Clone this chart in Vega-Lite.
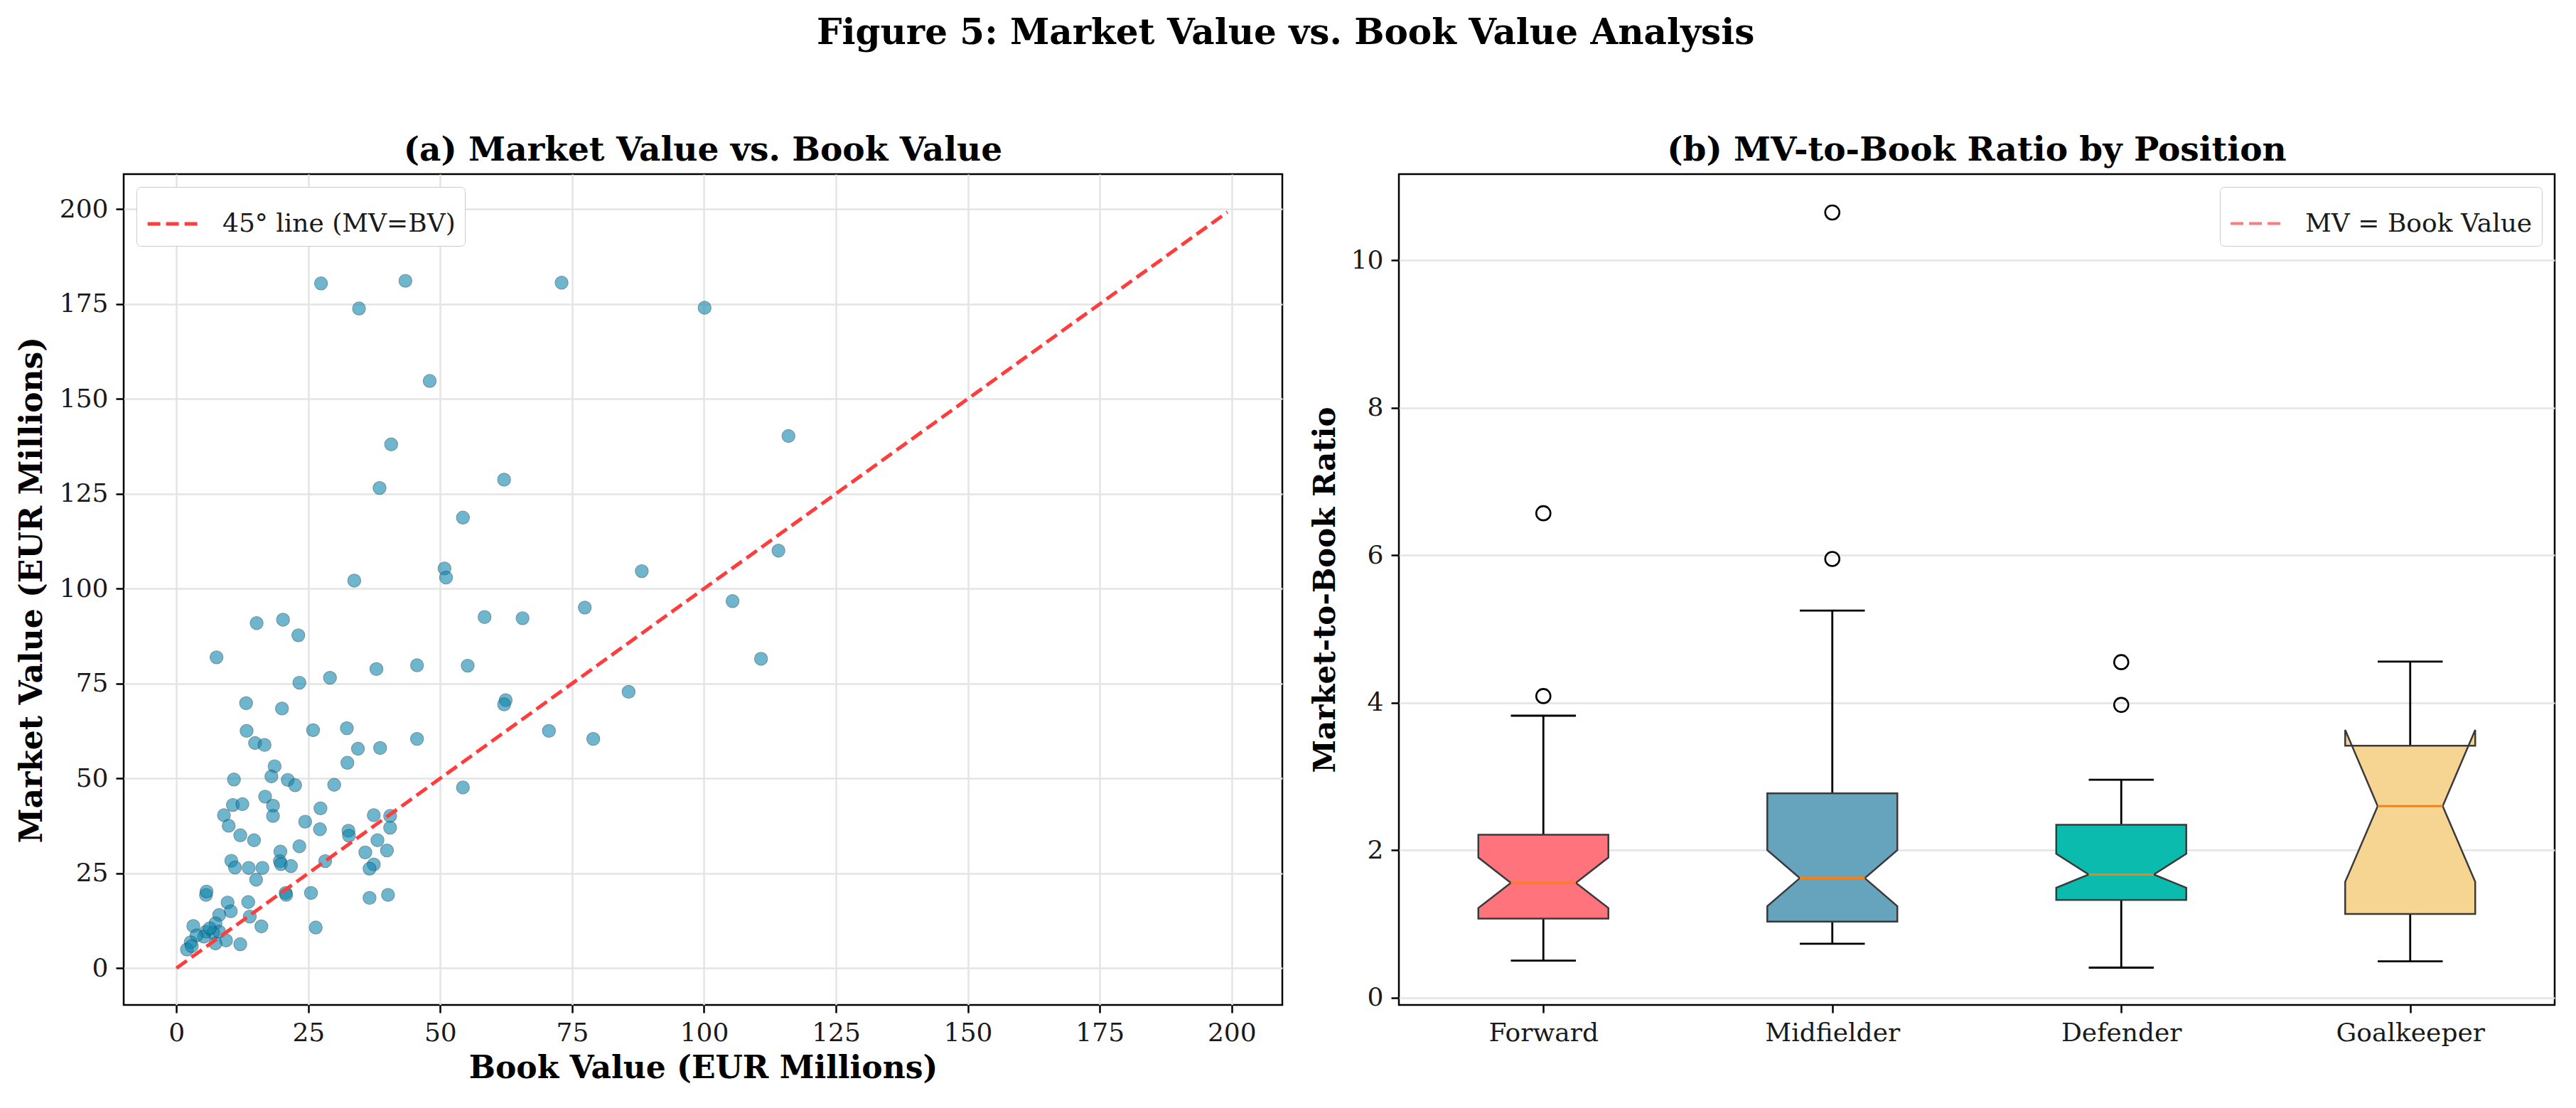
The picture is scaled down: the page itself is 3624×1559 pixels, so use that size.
{
  "$schema": "https://vega.github.io/schema/vega-lite/v6.json",
  "background": "white",
  "padding": {"left": 22, "top": 21, "right": 20, "bottom": 20},
  "title": {
    "text": "Figure 5: Market Value vs. Book Value Analysis",
    "font": "DejaVu Serif",
    "fontSize": 50,
    "fontWeight": "bold",
    "color": "black",
    "anchor": "middle",
    "offset": 115
  },
  "config": {
    "font": "DejaVu Serif",
    "view": {"stroke": "black", "strokeWidth": 2.5},
    "axis": {
      "labelFont": "DejaVu Serif",
      "labelFontSize": 36,
      "labelColor": "#1a1a1a",
      "labelLimit": 600,
      "titleFont": "DejaVu Serif",
      "titleFontSize": 44,
      "titleFontWeight": "bold",
      "titleColor": "black",
      "domain": false,
      "tickColor": "black",
      "tickWidth": 2.5,
      "tickSize": 11,
      "labelPadding": 11,
      "titlePadding": 14,
      "gridColor": "#e4e4e4",
      "gridWidth": 2.5
    },
    "legend": {
      "labelFont": "DejaVu Serif",
      "labelFontSize": 36,
      "labelColor": "#1a1a1a",
      "labelLimit": 2000,
      "fillColor": "white",
      "strokeColor": "#cccccc",
      "cornerRadius": 6,
      "padding": 13,
      "offset": 18
    },
    "title": {"font": "DejaVu Serif", "fontSize": 47, "fontWeight": "bold", "color": "black", "offset": 9}
  },
  "datasets": {
    "players": [
      {"book_value": 27.4, "market_value": 180.4}, {"book_value": 43.4, "market_value": 181.1},
      {"book_value": 34.6, "market_value": 173.8}, {"book_value": 73.0, "market_value": 180.6},
      {"book_value": 100.1, "market_value": 174.0}, {"book_value": 48.0, "market_value": 154.7},
      {"book_value": 40.7, "market_value": 138.0}, {"book_value": 38.5, "market_value": 126.5},
      {"book_value": 62.1, "market_value": 128.7}, {"book_value": 54.3, "market_value": 118.7},
      {"book_value": 50.8, "market_value": 105.3}, {"book_value": 51.1, "market_value": 102.9},
      {"book_value": 33.7, "market_value": 102.1}, {"book_value": 88.2, "market_value": 104.6},
      {"book_value": 105.4, "market_value": 96.7}, {"book_value": 15.2, "market_value": 90.9},
      {"book_value": 20.2, "market_value": 91.8}, {"book_value": 23.1, "market_value": 87.7},
      {"book_value": 58.4, "market_value": 92.5}, {"book_value": 65.6, "market_value": 92.2},
      {"book_value": 77.4, "market_value": 95.0}, {"book_value": 7.6, "market_value": 81.9},
      {"book_value": 45.6, "market_value": 79.8}, {"book_value": 55.2, "market_value": 79.7},
      {"book_value": 37.9, "market_value": 78.8}, {"book_value": 29.1, "market_value": 76.5},
      {"book_value": 23.3, "market_value": 75.2}, {"book_value": 85.7, "market_value": 72.8},
      {"book_value": 62.4, "market_value": 70.6}, {"book_value": 62.1, "market_value": 69.5},
      {"book_value": 13.2, "market_value": 69.8}, {"book_value": 20.0, "market_value": 68.4},
      {"book_value": 70.6, "market_value": 62.5}, {"book_value": 13.3, "market_value": 62.5},
      {"book_value": 25.9, "market_value": 62.7}, {"book_value": 32.3, "market_value": 63.2},
      {"book_value": 45.6, "market_value": 60.4}, {"book_value": 79.0, "market_value": 60.4},
      {"book_value": 14.9, "market_value": 59.3}, {"book_value": 16.7, "market_value": 58.8},
      {"book_value": 34.4, "market_value": 57.8}, {"book_value": 38.6, "market_value": 58.0},
      {"book_value": 32.4, "market_value": 54.1}, {"book_value": 18.6, "market_value": 53.2},
      {"book_value": 18.0, "market_value": 50.5}, {"book_value": 10.9, "market_value": 49.7},
      {"book_value": 21.1, "market_value": 49.6}, {"book_value": 22.5, "market_value": 48.2},
      {"book_value": 29.9, "market_value": 48.3}, {"book_value": 54.3, "market_value": 47.6},
      {"book_value": 16.8, "market_value": 45.2}, {"book_value": 10.7, "market_value": 43.0},
      {"book_value": 12.5, "market_value": 43.2}, {"book_value": 18.3, "market_value": 42.8},
      {"book_value": 18.3, "market_value": 40.1}, {"book_value": 9.0, "market_value": 40.3},
      {"book_value": 27.3, "market_value": 42.1}, {"book_value": 37.4, "market_value": 40.3},
      {"book_value": 40.5, "market_value": 40.1}, {"book_value": 24.4, "market_value": 38.6},
      {"book_value": 9.9, "market_value": 37.5}, {"book_value": 27.2, "market_value": 36.6},
      {"book_value": 32.6, "market_value": 36.2}, {"book_value": 40.5, "market_value": 37.0},
      {"book_value": 32.7, "market_value": 34.9}, {"book_value": 12.1, "market_value": 35.0},
      {"book_value": 14.7, "market_value": 33.7}, {"book_value": 38.1, "market_value": 33.7},
      {"book_value": 23.3, "market_value": 32.1}, {"book_value": 35.8, "market_value": 30.5},
      {"book_value": 39.9, "market_value": 31.0}, {"book_value": 19.7, "market_value": 30.7},
      {"book_value": 10.4, "market_value": 28.3}, {"book_value": 19.6, "market_value": 28.2},
      {"book_value": 28.2, "market_value": 28.2}, {"book_value": 11.1, "market_value": 26.5},
      {"book_value": 13.7, "market_value": 26.4}, {"book_value": 16.3, "market_value": 26.4},
      {"book_value": 19.8, "market_value": 27.4}, {"book_value": 21.7, "market_value": 26.9},
      {"book_value": 37.4, "market_value": 27.3}, {"book_value": 36.6, "market_value": 26.2},
      {"book_value": 15.1, "market_value": 23.3}, {"book_value": 5.6, "market_value": 19.3},
      {"book_value": 5.7, "market_value": 20.2}, {"book_value": 20.7, "market_value": 19.8},
      {"book_value": 20.8, "market_value": 19.3}, {"book_value": 25.5, "market_value": 19.8},
      {"book_value": 36.6, "market_value": 18.5}, {"book_value": 40.1, "market_value": 19.3},
      {"book_value": 9.7, "market_value": 17.3}, {"book_value": 13.6, "market_value": 17.4},
      {"book_value": 10.3, "market_value": 15.0}, {"book_value": 13.9, "market_value": 13.6},
      {"book_value": 26.4, "market_value": 10.7}, {"book_value": 16.1, "market_value": 11.0},
      {"book_value": 12.1, "market_value": 6.3}, {"book_value": 8.1, "market_value": 14.0},
      {"book_value": 7.4, "market_value": 11.8}, {"book_value": 3.2, "market_value": 11.1},
      {"book_value": 5.6, "market_value": 9.6}, {"book_value": 7.0, "market_value": 9.3},
      {"book_value": 8.1, "market_value": 9.6}, {"book_value": 9.4, "market_value": 7.3},
      {"book_value": 7.4, "market_value": 6.5}, {"book_value": 5.2, "market_value": 8.3},
      {"book_value": 3.8, "market_value": 8.6}, {"book_value": 2.7, "market_value": 6.8},
      {"book_value": 2.0, "market_value": 4.9}, {"book_value": 2.9, "market_value": 5.8},
      {"book_value": 6.3, "market_value": 10.5}, {"book_value": 116.0, "market_value": 140.2},
      {"book_value": 114.1, "market_value": 110.0}, {"book_value": 110.8, "market_value": 81.5}
    ],
    "diagonal": [
      {"book_value": 0, "market_value": 0},
      {"book_value": 199.2, "market_value": 199.2}
    ],
    "boxes": [
      {"position": "Forward", "lower_whisker": 0.502, "q1": 1.071, "notch_low": 1.215, "median": 1.556, "notch_high": 1.9, "q3": 2.208, "upper_whisker": 3.824},
      {"position": "Midfielder", "lower_whisker": 0.73, "q1": 1.03, "notch_low": 1.24, "median": 1.62, "notch_high": 2.0, "q3": 2.77, "upper_whisker": 5.25},
      {"position": "Defender", "lower_whisker": 0.406, "q1": 1.325, "notch_low": 1.49, "median": 1.67, "notch_high": 1.95, "q3": 2.345, "upper_whisker": 2.955},
      {"position": "Goalkeeper", "lower_whisker": 0.492, "q1": 1.135, "notch_low": 1.569, "median": 2.597, "notch_high": 3.631, "q3": 3.416, "upper_whisker": 4.557}
    ],
    "outliers": [
      {"position": "Forward", "ratio": 4.09},
      {"position": "Forward", "ratio": 6.57},
      {"position": "Midfielder", "ratio": 5.95},
      {"position": "Midfielder", "ratio": 10.65},
      {"position": "Defender", "ratio": 3.97},
      {"position": "Defender", "ratio": 4.55}
    ]
  },
  "spacing": 35,
  "hconcat": [
    {
      "title": "(a) Market Value vs. Book Value",
      "width": 1630,
      "height": 1169,
      "layer": [
        {
          "data": {"name": "players"},
          "mark": {"type": "circle", "size": 330, "color": "#0e87ad", "opacity": 0.6, "stroke": "#15506a", "strokeWidth": 1.2},
          "encoding": {
            "x": {"field": "book_value", "type": "quantitative",
                  "scale": {"domain": [-10, 209.6], "nice": false, "zero": false},
                  "axis": {"values": [0, 25, 50, 75, 100, 125, 150, 175, 200], "title": "Book Value (EUR Millions)", "grid": true, "titlePadding": 10}},
            "y": {"field": "market_value", "type": "quantitative",
                  "scale": {"domain": [-9.7, 209.2], "nice": false, "zero": false},
                  "axis": {"values": [0, 25, 50, 75, 100, 125, 150, 175, 200], "title": "Market Value (EUR Millions)", "grid": true, "titlePadding": 16}}
          }
        },
        {
          "data": {"name": "diagonal"},
          "mark": {"type": "line", "strokeWidth": 5, "strokeDash": [18, 8]},
          "encoding": {
            "x": {"field": "book_value", "type": "quantitative"},
            "y": {"field": "market_value", "type": "quantitative"},
            "stroke": {"datum": "45° line (MV=BV)",
                       "scale": {"range": ["#ff3d3d"]},
                       "legend": {"title": null, "orient": "top-left", "symbolType": "stroke", "symbolStrokeWidth": 5, "symbolDash": [18, 8], "symbolSize": 5300, "labelOffset": 30}}
          }
        }
      ]
    },
    {
      "title": "(b) MV-to-Book Ratio by Position",
      "width": 1626,
      "height": 1169,
      "layer": [
        {
          "data": {"name": "boxes"},
          "transform": [
            {"calculate": "indexof(['Forward','Midfielder','Defender','Goalkeeper'], datum.position) + 1", "as": "idx"}
          ],
          "mark": {"type": "rule", "color": "black", "strokeWidth": 2.8},
          "encoding": {
            "x": {"field": "idx", "type": "quantitative",
                  "scale": {"domain": [0.5, 4.5], "nice": false, "zero": false},
                  "axis": {"values": [1, 2, 3, 4], "labelExpr": "['Forward','Midfielder','Defender','Goalkeeper'][datum.value - 1]", "grid": false, "title": null}},
            "y": {"field": "lower_whisker", "type": "quantitative",
                  "scale": {"domain": [-0.1, 11.17], "nice": false, "zero": false},
                  "axis": {"values": [0, 2, 4, 6, 8, 10], "format": "d", "title": "Market-to-Book Ratio", "titleFontSize": 42, "grid": true}},
            "y2": {"field": "q1"}
          }
        },
        {
          "data": {"name": "boxes"},
          "transform": [
            {"calculate": "indexof(['Forward','Midfielder','Defender','Goalkeeper'], datum.position) + 1", "as": "idx"}
          ],
          "mark": {"type": "rule", "color": "black", "strokeWidth": 2.8},
          "encoding": {
            "x": {"field": "idx", "type": "quantitative", "axis": {"title": null}},
            "y": {"field": "q3", "type": "quantitative"},
            "y2": {"field": "upper_whisker"}
          }
        },
        {
          "data": {"name": "boxes"},
          "transform": [
            {"calculate": "indexof(['Forward','Midfielder','Defender','Goalkeeper'], datum.position) + 1", "as": "idx"},
            {"calculate": "datum.idx - 0.1125", "as": "cap_left"},
            {"calculate": "datum.idx + 0.1125", "as": "cap_right"},
            {"fold": ["lower_whisker", "upper_whisker"], "as": ["end", "cap_value"]}
          ],
          "mark": {"type": "rule", "color": "black", "strokeWidth": 2.8},
          "encoding": {
            "x": {"field": "cap_left", "type": "quantitative", "axis": {"title": null}},
            "x2": {"field": "cap_right"},
            "y": {"field": "cap_value", "type": "quantitative"}
          }
        },
        {
          "data": {"name": "boxes"},
          "transform": [
            {"calculate": "indexof(['Forward','Midfielder','Defender','Goalkeeper'], datum.position) + 1", "as": "idx"},
            {"fold": ["q1", "notch_low", "median", "notch_high", "q3"], "as": ["stat", "value"]},
            {"calculate": "indexof(['q1','notch_low','median','notch_high','q3'], datum.stat)", "as": "step"},
            {"calculate": "[-1, 1]", "as": "sides"},
            {"flatten": ["sides"], "as": ["side"]},
            {"calculate": "datum.side < 0 ? datum.step : 9 - datum.step", "as": "vertex"},
            {"calculate": "datum.idx + datum.side * (datum.stat === 'median' ? 0.1125 : 0.225)", "as": "edge_x"}
          ],
          "mark": {"type": "line", "interpolate": "linear-closed", "stroke": "#3a3a3a", "strokeWidth": 2.5, "fillOpacity": 1},
          "encoding": {
            "x": {"field": "edge_x", "type": "quantitative", "axis": {"title": null}},
            "y": {"field": "value", "type": "quantitative"},
            "order": {"field": "vertex", "type": "quantitative"},
            "detail": {"field": "position", "type": "nominal"},
            "fill": {"field": "position", "type": "nominal",
                     "scale": {"domain": ["Forward", "Midfielder", "Defender", "Goalkeeper"], "range": ["#ff737d", "#66a3bc", "#0bbbad", "#f6d593"]},
                     "legend": null}
          }
        },
        {
          "data": {"name": "boxes"},
          "transform": [
            {"calculate": "indexof(['Forward','Midfielder','Defender','Goalkeeper'], datum.position) + 1", "as": "idx"},
            {"calculate": "datum.idx - 0.1125", "as": "med_left"},
            {"calculate": "datum.idx + 0.1125", "as": "med_right"}
          ],
          "mark": {"type": "rule", "color": "#ff7f0e", "strokeWidth": 3},
          "encoding": {
            "x": {"field": "med_left", "type": "quantitative", "axis": {"title": null}},
            "x2": {"field": "med_right"},
            "y": {"field": "median", "type": "quantitative"}
          }
        },
        {
          "data": {"name": "outliers"},
          "transform": [
            {"calculate": "indexof(['Forward','Midfielder','Defender','Goalkeeper'], datum.position) + 1", "as": "idx"}
          ],
          "mark": {"type": "point", "shape": "circle", "filled": false, "color": "black", "size": 400, "strokeWidth": 2.6, "opacity": 1},
          "encoding": {
            "x": {"field": "idx", "type": "quantitative", "axis": {"title": null}},
            "y": {"field": "ratio", "type": "quantitative"}
          }
        },
        {
          "mark": {"type": "rule", "strokeWidth": 4, "strokeDash": [18, 8]},
          "encoding": {
            "y": {"datum": 1, "type": "quantitative"},
            "stroke": {"datum": "MV = Book Value",
                       "scale": {"range": ["#ff7a7a"]},
                       "legend": {"title": null, "orient": "top-right", "symbolType": "stroke", "symbolStrokeWidth": 4, "symbolDash": [18, 8], "symbolSize": 5300, "labelOffset": 30}}
          }
        }
      ]
    }
  ],
  "resolve": {
    "scale": {"x": "independent", "y": "independent", "stroke": "independent", "fill": "independent"},
    "legend": {"stroke": "independent"}
  }
}
